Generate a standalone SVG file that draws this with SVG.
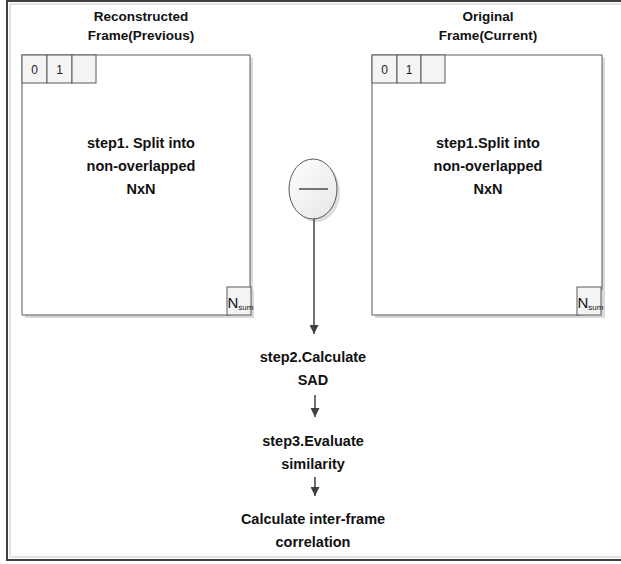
<svg xmlns="http://www.w3.org/2000/svg" width="621" height="564" viewBox="0 0 621 564">
<defs>
<style>
.hdr{font-family:"Liberation Sans",Arial,sans-serif;font-weight:bold;font-size:13.5px;fill:#111;text-anchor:middle}
.stp{font-family:"Liberation Sans",Arial,sans-serif;font-weight:bold;font-size:14.5px;fill:#111;text-anchor:middle}
.cel{font-family:"Liberation Sans",Arial,sans-serif;font-size:12px;fill:#222;text-anchor:middle}
.frame{fill:#fff;stroke:#5a5a5a;stroke-width:1}
.cell{fill:#f4f4f4;stroke:#5a5a5a;stroke-width:1}
.shadow{fill:#d9d9d9}
.conn{stroke:#404040;stroke-width:1.5;fill:none}
</style>
<linearGradient id="eg" x1="0" y1="0" x2="1" y2="1">
<stop offset="0" stop-color="#ffffff"/>
<stop offset="1" stop-color="#e6e6e6"/>
</linearGradient>
<marker id="ah" viewBox="0 0 10 10" refX="10" refY="5" markerWidth="10" markerHeight="9" orient="auto" markerUnits="userSpaceOnUse">
<path d="M0,0 L10,5 L0,10 Z" fill="#404040"/>
</marker>
</defs>
<rect x="0" y="0" width="621" height="564" fill="#fff"/>
<rect x="10" y="4" width="620" height="553" fill="none" stroke="#e3e3e3" stroke-width="2"/>
<rect x="7" y="1" width="620" height="559" fill="none" stroke="#404040" stroke-width="2"/>

<g id="left-frame">
<text class="hdr" x="141" y="21">Reconstructed</text>
<text class="hdr" x="141" y="40">Frame(Previous)</text>
<rect class="shadow" x="25" y="58" width="228" height="260"/>
<rect class="frame" x="22" y="55" width="228" height="260"/>
<rect class="cell" x="22" y="55" width="25" height="28"/>
<rect class="cell" x="47" y="55" width="25" height="28"/>
<rect class="cell" x="72" y="55" width="24" height="28"/>
<text class="cel" x="34.5" y="73.5">0</text>
<text class="cel" x="59.5" y="73.5">1</text>
<rect class="shadow" x="230" y="290" width="24" height="28"/>
<rect class="cell" x="227" y="287" width="24" height="28"/>
<text x="227.5" y="308" font-family="Liberation Sans, Arial, sans-serif" font-size="15" fill="#111">N<tspan font-size="8" dy="2">sum</tspan></text>
<text class="stp" x="141" y="148">step1. Split into</text>
<text class="stp" x="141" y="171">non-overlapped</text>
<text class="stp" x="141" y="194">NxN</text>
</g>

<g id="right-frame">
<text class="hdr" x="488" y="21">Original</text>
<text class="hdr" x="488" y="40">Frame(Current)</text>
<rect class="shadow" x="375" y="58" width="230" height="260"/>
<rect class="frame" x="372" y="55" width="230" height="260"/>
<rect class="cell" x="372" y="55" width="25" height="28"/>
<rect class="cell" x="397" y="55" width="24" height="28"/>
<rect class="cell" x="421" y="55" width="24" height="28"/>
<text class="cel" x="384.5" y="73.5">0</text>
<text class="cel" x="409" y="73.5">1</text>
<rect class="shadow" x="580" y="290" width="24" height="28"/>
<rect class="cell" x="577" y="287" width="24" height="28"/>
<text x="577.5" y="308" font-family="Liberation Sans, Arial, sans-serif" font-size="15" fill="#111">N<tspan font-size="8" dy="2">sum</tspan></text>
<text class="stp" x="488" y="148">step1.Split into</text>
<text class="stp" x="488" y="171">non-overlapped</text>
<text class="stp" x="488" y="194">NxN</text>
</g>

<g id="subtract">
<ellipse cx="316" cy="192" rx="24" ry="30" fill="#dcdcdc"/>
<ellipse cx="313" cy="189" rx="24" ry="30" fill="url(#eg)" stroke="#5a5a5a" stroke-width="1"/>
<line x1="299" y1="189" x2="328" y2="189" stroke="#222" stroke-width="1.2"/>
</g>

<g id="step2">
<text class="stp" x="313" y="362">step2.Calculate</text>
<text class="stp" x="313" y="385">SAD</text>
</g>
<g id="step3">
<text class="stp" x="313" y="446">step3.Evaluate</text>
<text class="stp" x="313" y="469">similarity</text>
</g>
<g id="step4">
<text class="stp" x="313" y="524">Calculate inter-frame</text>
<text class="stp" x="313" y="547">correlation</text>
</g>

<g id="connectors">
<line class="conn" x1="314" y1="219" x2="314" y2="334" marker-end="url(#ah)"/>
<line class="conn" x1="315" y1="395" x2="315" y2="417" marker-end="url(#ah)"/>
<line class="conn" x1="315" y1="477" x2="315" y2="496" marker-end="url(#ah)"/>
</g>
</svg>
